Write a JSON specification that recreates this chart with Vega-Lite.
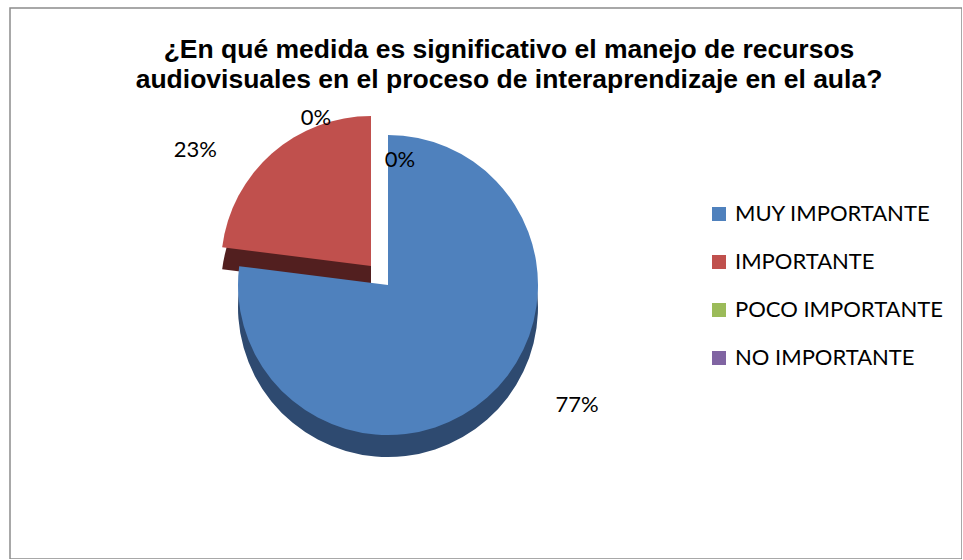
{
  "$schema": "https://vega.github.io/schema/vega-lite/v6.json",
  "width": 952,
  "height": 551,
  "autosize": {"type": "none"},
  "padding": {"left": 10, "top": 8, "right": 0, "bottom": 0},
  "background": "white",
  "view": {"stroke": "#8c8c8c", "strokeWidth": 1.5},
  "config": {
    "view": {"stroke": "#8c8c8c", "strokeWidth": 1.5},
    "font": "Liberation Sans"
  },
  "title": {
    "text": ["¿En qué medida es significativo el manejo de recursos", "audiovisuales en el proceso de interaprendizaje en el aula?"],
    "fontSize": 26.5,
    "fontWeight": "bold",
    "font": "Liberation Sans",
    "color": "#000000",
    "lineHeight": 30,
    "anchor": "middle",
    "offset": -85,
    "dx": 23
  },
  "data": {
    "values": [
      {"categoria": "MUY IMPORTANTE", "porcentaje": 0.77},
      {"categoria": "IMPORTANTE", "porcentaje": 0.23},
      {"categoria": "POCO IMPORTANTE", "porcentaje": 0},
      {"categoria": "NO IMPORTANTE", "porcentaje": 0}
    ]
  },
  "transform": [
    {"window": [{"op": "row_number", "as": "orden"}]},
    {"stack": "porcentaje", "groupby": [], "sort": [{"field": "orden", "order": "ascending"}], "as": ["p0", "p1"]}
  ],
  "layer": [
    {
      "transform": [{"filter": "datum.categoria == 'MUY IMPORTANTE'"}],
      "mark": {"type": "arc", "x": 378, "y": 299, "radius": 150, "fill": "#2E4A70"},
      "encoding": {
        "theta": {"field": "p0", "type": "quantitative", "scale": {"domain": [0, 1]}},
        "theta2": {"field": "p1"}
      }
    },
    {
      "transform": [{"filter": "datum.categoria == 'IMPORTANTE'"}],
      "mark": {"type": "arc", "x": 361, "y": 280, "radius": 150, "fill": "#521F1F"},
      "encoding": {
        "theta": {"field": "p0", "type": "quantitative", "scale": {"domain": [0, 1]}},
        "theta2": {"field": "p1"}
      }
    },
    {
      "transform": [{"filter": "datum.categoria == 'MUY IMPORTANTE'"}],
      "mark": {"type": "arc", "x": 378, "y": 277, "radius": 150},
      "encoding": {
        "theta": {"field": "p0", "type": "quantitative", "scale": {"domain": [0, 1]}},
        "theta2": {"field": "p1"},
        "color": {
          "field": "categoria",
          "type": "nominal",
          "scale": {
            "domain": ["MUY IMPORTANTE", "IMPORTANTE", "POCO IMPORTANTE", "NO IMPORTANTE"],
            "range": ["#4F81BD", "#C0504D", "#9BBB59", "#8064A2"]
          },
          "legend": {
            "title": null,
            "orient": "none",
            "legendX": 698,
            "legendY": 195,
            "symbolType": "square",
            "symbolSize": 196,
            "symbolStrokeWidth": 0,
            "labelFont": "Lato",
            "labelFontSize": 22,
            "labelColor": "#000000",
            "labelOffset": 5,
            "rowPadding": 26,
            "labelLimit": 400
          }
        }
      }
    },
    {
      "transform": [{"filter": "datum.categoria == 'IMPORTANTE'"}],
      "mark": {"type": "arc", "x": 361, "y": 258, "radius": 150},
      "encoding": {
        "theta": {"field": "p0", "type": "quantitative", "scale": {"domain": [0, 1]}},
        "theta2": {"field": "p1"},
        "color": {"field": "categoria", "type": "nominal"}
      }
    },
    {
      "mark": {"type": "text", "x": 378, "y": 277, "radius": 180, "dx": 70, "dy": -15, "font": "Lato", "fontSize": 22, "color": "#000000"},
      "encoding": {
        "theta": {"field": "porcentaje", "type": "quantitative", "stack": true, "scale": {"domain": [0, 1]}},
        "order": {"field": "orden"},
        "text": {"condition": {"test": "datum.categoria == 'MUY IMPORTANTE'", "field": "porcentaje", "format": ".0%"}, "value": ""}
      }
    },
    {
      "mark": {"type": "text", "x": 361, "y": 258, "radius": 175, "dx": -60, "dy": 15, "font": "Lato", "fontSize": 22, "color": "#000000"},
      "encoding": {
        "theta": {"field": "porcentaje", "type": "quantitative", "stack": true, "scale": {"domain": [0, 1]}},
        "order": {"field": "orden"},
        "text": {"condition": {"test": "datum.categoria == 'IMPORTANTE'", "field": "porcentaje", "format": ".0%"}, "value": ""}
      }
    },
    {
      "mark": {"type": "text", "x": 378, "y": 277, "radius": 167, "dx": -72, "font": "Lato", "fontSize": 22, "color": "#000000"},
      "encoding": {
        "theta": {"field": "porcentaje", "type": "quantitative", "stack": true, "scale": {"domain": [0, 1]}},
        "order": {"field": "orden"},
        "text": {"condition": {"test": "datum.categoria == 'POCO IMPORTANTE'", "field": "porcentaje", "format": ".0%"}, "value": ""}
      }
    },
    {
      "mark": {"type": "text", "x": 378, "y": 277, "radius": 125, "dx": 12, "font": "Lato", "fontSize": 22, "color": "#000000"},
      "encoding": {
        "theta": {"field": "porcentaje", "type": "quantitative", "stack": true, "scale": {"domain": [0, 1]}},
        "order": {"field": "orden"},
        "text": {"condition": {"test": "datum.categoria == 'NO IMPORTANTE'", "field": "porcentaje", "format": ".0%"}, "value": ""}
      }
    }
  ]
}
